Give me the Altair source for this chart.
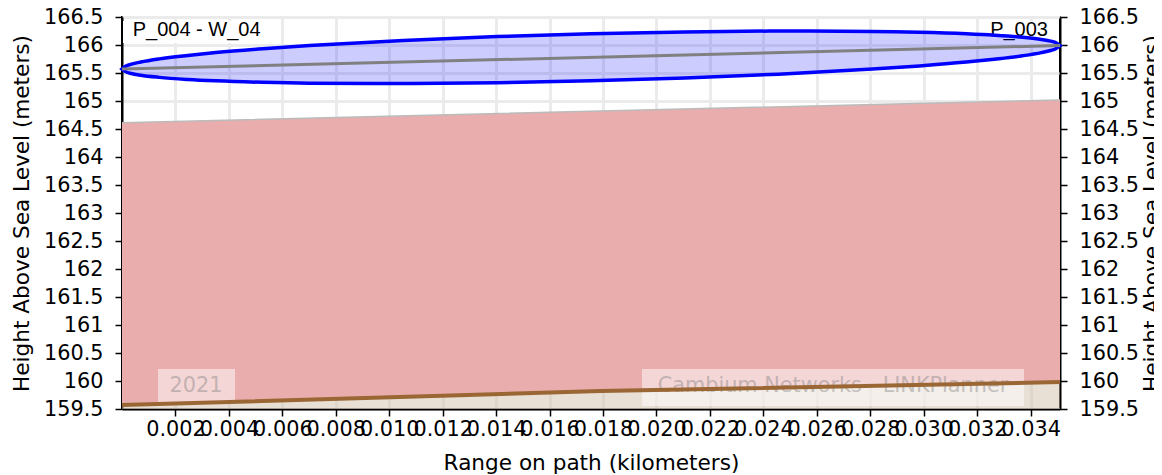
import altair as alt
import pandas as pd

# ---- data ----
# terrain profile (km, m)
dist_km = [0.0, 0.0179, 0.0351]
terrain_m = [159.57, 159.82, 159.98]
clutter_top_m = [164.61, 164.82, 165.02]

# line of sight
los_km = [0.0, 0.0351]
los_m = [165.57, 165.99]

# first Fresnel zone outline (km, upper m, lower m)
fresnel_km = [0.0, 0.00018, 0.00035, 0.0007, 0.0014, 0.00246, 0.00351, 0.00527,
              0.00702, 0.01053, 0.01404, 0.01755, 0.02106, 0.02457, 0.02808,
              0.02984, 0.03159, 0.03264, 0.0337, 0.0344, 0.03475, 0.03492, 0.0351]
fresnel_upper = [165.57, 165.631, 165.658, 165.696, 165.752, 165.813, 165.864, 165.933,
                 165.990, 166.081, 166.150, 166.200, 166.234, 166.249, 166.242,
                 166.227, 166.200, 166.175, 166.138, 166.100, 166.070, 166.047, 165.99]
fresnel_lower = [165.57, 165.513, 165.490, 165.460, 165.422, 165.385, 165.360, 165.333,
                 165.318, 165.311, 165.326, 165.360, 165.410, 165.479, 165.570,
                 165.627, 165.696, 165.747, 165.808, 165.864, 165.902, 165.929, 165.99]

x_ticks = [0.002, 0.004, 0.006, 0.008, 0.010, 0.012, 0.014, 0.016, 0.018,
           0.020, 0.022, 0.024, 0.026, 0.028, 0.030, 0.032, 0.034]
y_ticks = [159.5, 160, 160.5, 161, 161.5, 162, 162.5, 163, 163.5, 164, 164.5,
           165, 165.5, 166, 166.5]

site_labels = ["P_004 - W_04", "P_003"]
watermarks = ["2021", "Cambium Networks - LINKPlanner"]

x_title = "Range on path (kilometers)"
y_title = "Height Above Sea Level (meters)"

# ---- tables ----
terrain = pd.DataFrame({"d": dist_km, "h": terrain_m, "c": clutter_top_m})
los = pd.DataFrame({"d": los_km, "h": los_m})
fresnel = pd.DataFrame({"d": fresnel_km, "up": fresnel_upper, "lo": fresnel_lower})

FONT = "DejaVu Sans"
FS = 20.8
TFS = 21.6

xs = alt.Scale(domain=[0, 0.0351], nice=False, zero=False)
ys = alt.Scale(domain=[159.5, 166.5], nice=False, zero=False)

x_axis = alt.Axis(values=x_ticks, format=".3f", title=x_title, grid=True,
                  labelOverlap=False, labelFlush=False, labelBound=False,
                  labelPadding=3.5,
                  titleBaseline="alphabetic", titleY=60, titleX=469)
y_axis_left = alt.Axis(values=y_ticks, format="~g", title=y_title, grid=True,
                       labelOverlap=False, labelFlush=False,
                       titleAngle=270, titleBaseline="alphabetic",
                       titleAlign="center", titleX=-94, titleY=196)
y_axis_right = alt.Axis(values=y_ticks, format="~g", title=y_title, grid=False,
                        orient="right", labelOverlap=False, labelFlush=False,
                        titleAngle=270, titleBaseline="alphabetic",
                        titleAlign="center", titleX=98, titleY=196)

X = alt.X("d:Q", scale=xs, axis=x_axis)
Xn = alt.X("d:Q", scale=xs, axis=None)

ground = alt.Chart(terrain).mark_area(color="#d2c0ab", opacity=0.5).encode(
    x=X,
    y=alt.Y("h:Q", scale=ys, axis=y_axis_left),
    y2=alt.datum(159.5),
)

clutter = alt.Chart(terrain).mark_area(color="#e9adad", opacity=1).encode(
    x=Xn, y=alt.Y("c:Q", scale=ys, axis=None), y2="h:Q"
)

clutter_edge = alt.Chart(terrain).mark_line(color="#bbbbbb", strokeWidth=1.5).encode(
    x=Xn, y=alt.Y("c:Q", scale=ys, axis=None)
)

# watermark boxes and text
wm_df = pd.DataFrame({"t": [watermarks[0]]})
wm_df2 = pd.DataFrame({"t": [watermarks[1]]})
wm_box1 = alt.Chart(wm_df).mark_rect(color="white", opacity=0.5).encode(
    x=alt.value(36), x2=alt.value(113), y=alt.value(352), y2=alt.value(385))
wm_box2 = alt.Chart(wm_df2).mark_rect(color="white", opacity=0.5).encode(
    x=alt.value(520), x2=alt.value(902), y=alt.value(352), y2=alt.value(389))
wm_txt1 = alt.Chart(wm_df).mark_text(font=FONT, fontSize=FS, color="#808080", opacity=0.42,
                                     align="center", baseline="alphabetic").encode(
    x=alt.value(74), y=alt.value(375), text="t:N")
wm_txt2 = alt.Chart(wm_df2).mark_text(font=FONT, fontSize=FS, color="#808080", opacity=0.42,
                                      align="center", baseline="alphabetic").encode(
    x=alt.value(711), y=alt.value(375), text="t:N")

ground_line = alt.Chart(terrain).mark_line(color="#9a6633", strokeWidth=4).encode(
    x=Xn, y=alt.Y("h:Q", scale=ys, axis=None)
)

# site labels with white boxes
lab1 = pd.DataFrame({"t": [site_labels[0]]})
lab2 = pd.DataFrame({"t": [site_labels[1]]})
box1 = alt.Chart(lab1).mark_rect(color="white").encode(
    x=alt.value(1), x2=alt.value(152), y=alt.value(4), y2=alt.value(26))
box2 = alt.Chart(lab2).mark_rect(color="white").encode(
    x=alt.value(858), x2=alt.value(936), y=alt.value(4), y2=alt.value(26))
txt1 = alt.Chart(lab1).mark_text(font="Liberation Sans", fontSize=20, color="black",
                                 align="left", baseline="alphabetic").encode(
    x=alt.value(10.7), y=alt.value(19), text="t:N")
txt2 = alt.Chart(lab2).mark_text(font="Liberation Sans", fontSize=20, color="black",
                                 align="right", baseline="alphabetic").encode(
    x=alt.value(926), y=alt.value(19), text="t:N")

fz = alt.Chart(fresnel).mark_area(fill="blue", fillOpacity=0.2, stroke="blue",
                                  strokeWidth=3.5, interpolate="monotone").encode(
    x=Xn, y=alt.Y("up:Q", scale=ys, axis=None), y2="lo:Q"
)

los_line = alt.Chart(los).mark_line(color="gray", strokeWidth=3).encode(
    x=Xn, y=alt.Y("h:Q", scale=ys, axis=y_axis_right)
)

chart = alt.layer(
    ground, clutter, clutter_edge, wm_box1, wm_box2, wm_txt1, wm_txt2,
    ground_line, box1, box2, txt1, txt2, fz, los_line
).resolve_scale(y="independent").resolve_axis(y="independent", x="independent").properties(
    width=938, height=392,
    autosize=alt.AutoSizeParams(type="none"),
    padding={"left": 114, "top": 9, "right": 94, "bottom": 66},
).configure_view(
    stroke="black", strokeWidth=2
).configure_axis(
    labelFont=FONT, titleFont=FONT, labelFontSize=FS, titleFontSize=TFS,
    labelColor="black", titleColor="black", titleFontWeight="normal",
    domainColor="black", domainWidth=2, tickColor="black", tickWidth=1.5,
    tickSize=7, labelPadding=8, gridColor="#ebebeb", gridWidth=3,
).configure_axisY(labelPadding=12)

chart.save("out.html", embed_options={"renderer": "svg", "actions": False})
